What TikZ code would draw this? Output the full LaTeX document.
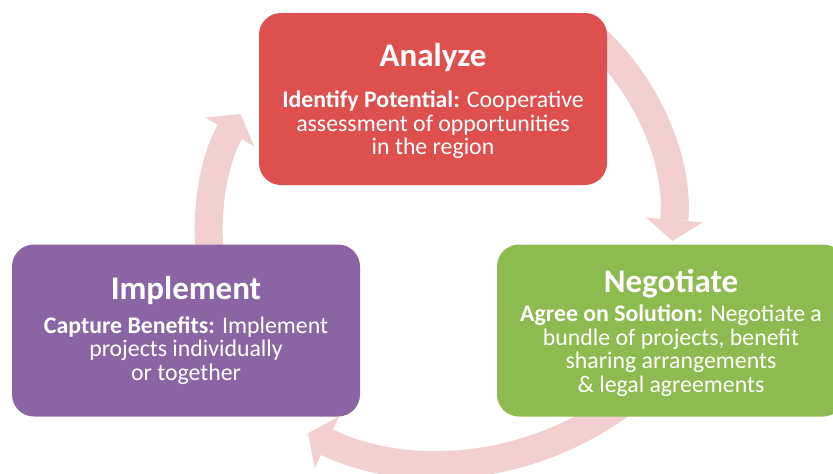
\documentclass[tikz,border=0pt]{standalone}
\usepackage{fontspec}
\setmainfont{Carlito}
\usepackage{tikz}
\usetikzlibrary{arrows.meta}
\definecolor{analyzeRed}{RGB}{221,80,78}
\definecolor{implementPurple}{RGB}{139,100,164}
\definecolor{negotiateGreen}{RGB}{141,187,80}
\definecolor{cyclePink}{RGB}{242,208,208}
\newcommand{\stagetitle}[1]{{\fontsize{33}{40}\selectfont\bfseries #1}}

\begin{document}
\begin{tikzpicture}[x=1pt, y=-1pt]%
  \tikzset{cycle arrow/.style={draw=cyclePink, line width=28pt, -{Triangle[length=21pt, width=57pt, line width=0pt]}}}
  \tikzstyle{stage}=[rounded corners=22pt, minimum width=348pt, minimum height=172pt, inner sep=0pt, text=white, align=center, font=\fontsize{23.8}{23.5}\selectfont]

  \useasboundingbox (0,0) rectangle (833,474);
  \clip (0,0) rectangle (833,474);

  % arrow ends, tails sit under the boxes
  \coordinate (implement-out) at (210,255);
  \coordinate (analyze-in) at (240.5,114);
  \coordinate (analyze-out) at (584.2,28.5);
  \coordinate (negotiate-in) at (672.6,240.9);
  \coordinate (negotiate-out) at (638,390.9);
  \coordinate (implement-in) at (308,433.2);

  \path[cycle arrow] (implement-out) .. controls (204.8,206) and (215.3,156.7) .. (analyze-in);
  \path[cycle arrow] (analyze-out) .. controls (646.5,80.8) and (679.4,159.9) .. (negotiate-in);
  \path[cycle arrow] (negotiate-out) .. controls (545.7,468.4) and (416.7,484.9) .. (implement-in);

  \node[stage, fill=analyzeRed, text depth=-2pt] (analyze) at (433,99)
    {\stagetitle{Analyze}\\[18pt]
     \textbf{Identify Potential:} Cooperative\\
     assessment of opportunities\\
     in the region};
  \node[stage, fill=implementPurple] (implement) at (186,330.5)
    {\stagetitle{Implement}\\[10pt]
     \textbf{Capture Benefits:} Implement\\
     projects individually\\
     or together};
  \node[stage, fill=negotiateGreen, text depth=-5pt] (negotiate) at (671,330.5)
    {\stagetitle{Negotiate}\\[6pt]
     \textbf{Agree on Solution:} Negotiate a\\
     bundle of projects, benefit\\
     sharing arrangements\\
     \& legal agreements};
\end{tikzpicture}
\end{document}
